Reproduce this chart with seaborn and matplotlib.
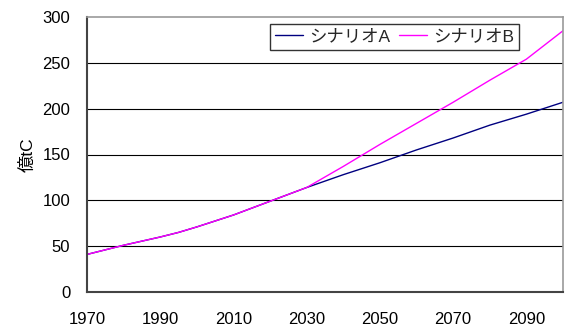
import matplotlib
matplotlib.use("Agg")
import matplotlib.pyplot as plt
import pandas as pd
import seaborn as sns

# Emission paths (億tC) per year
years_hist = [1970, 1980, 1990, 1995, 2000, 2010, 2020, 2030]
values_hist = [41, 51, 60, 65, 71, 84, 99, 114]
years_future = [2040, 2050, 2060, 2070, 2080, 2090, 2100]
scenario_a = [128, 141, 155, 168, 182, 194, 207]
scenario_b = [137, 161, 184, 207, 231, 254, 285]
series_names = ["シナリオA", "シナリオB"]
x_ticks = [1970, 1990, 2010, 2030, 2050, 2070, 2090]
y_ticks = [0, 50, 100, 150, 200, 250, 300]

years = years_hist + years_future
df = pd.concat([
    pd.DataFrame({"year": years, "value": values_hist + scenario_a, "series": series_names[0]}),
    pd.DataFrame({"year": years, "value": values_hist + scenario_b, "series": series_names[1]}),
])

sns.set_theme(style="white")
plt.rcParams["font.family"] = ["Liberation Sans", "Noto Sans CJK JP"]

fig = plt.figure(figsize=(5.66, 3.29), dpi=100)
ax = fig.add_axes([87 / 566, 37 / 329, 476 / 566, 275 / 329])

for y in y_ticks[1:-1]:
    ax.axhline(y, color="black", lw=0.8, zorder=0)

sns.lineplot(data=df, x="year", y="value", hue="series",
             palette=["#000080", "#FF00FF"], linewidth=1.0, ax=ax,
             legend=True)

ax.set_xlim(1970, 2100)
ax.set_ylim(0, 300)
ax.set_xticks(x_ticks)
ax.set_yticks(y_ticks)
ax.tick_params(axis="x", direction="in", length=5, width=1, color="#333333",
               pad=14.5, labelsize=12, labelcolor="black")
ax.tick_params(axis="y", length=0, pad=12, labelsize=12, labelcolor="black")
ax.set_xlabel("")
ax.set_ylabel("億tC", fontsize=12.5, color="black", labelpad=5)

for side in ["left", "bottom"]:
    ax.spines[side].set_color("#444444")
    ax.spines[side].set_linewidth(1.5)
for side in ["top", "right"]:
    ax.spines[side].set_color("#999999")
    ax.spines[side].set_linewidth(1.2)

leg = ax.legend(loc="upper right", bbox_to_anchor=(0.9076, 0.9745), ncol=2,
                frameon=True, fancybox=False, fontsize=12.5, handlelength=1.6,
                columnspacing=0.5, borderpad=0.3, handletextpad=0.35,
                borderaxespad=0)
leg.get_frame().set_edgecolor("black")
leg.get_frame().set_linewidth(1.0)

fig.savefig("out.png", dpi=100)
